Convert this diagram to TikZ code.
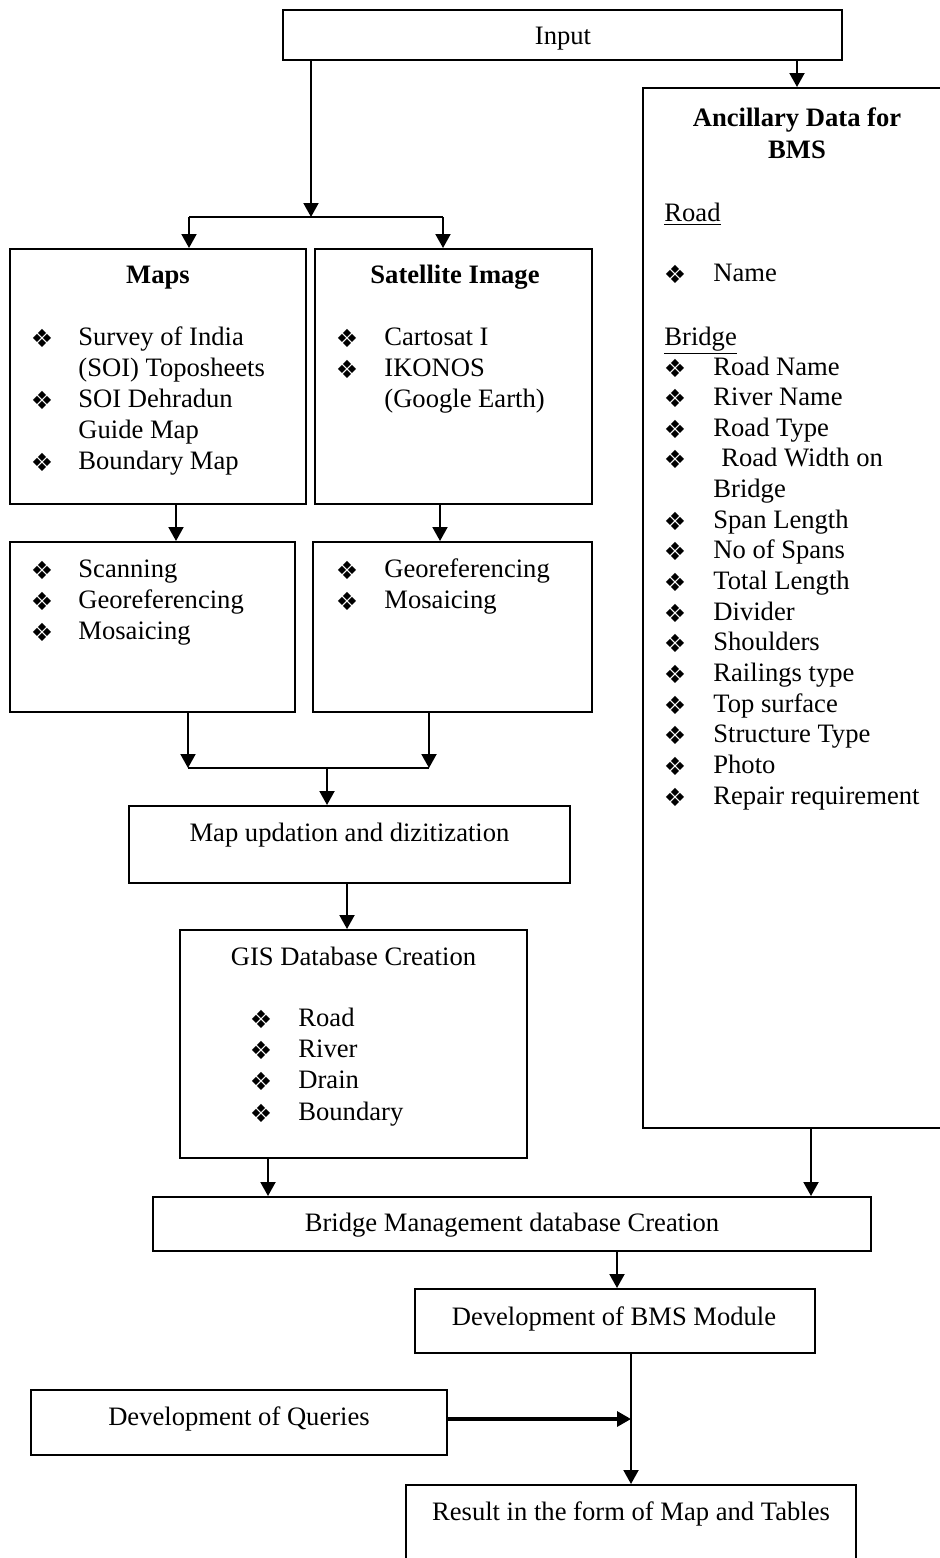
\documentclass[tikz,border=0pt]{standalone}
\usepackage{fontspec}
\setmainfont{Liberation Serif}
\newfontfamily\dingfont{DejaVu Sans}
\usetikzlibrary{arrows.meta,fit}

% bullet line: name, bullet x, text x, baseline y, text
\newcommand\bulitem[5]{%
  \node[dot] (#1b) at (#2,#4-7) {❖};
  \node[item] (#1) at (#3,#4) {#5};}

\begin{document}
\begin{tikzpicture}[x=0.5pt,y=-0.5pt,
  frame/.style={draw,line width=1pt,inner sep=0pt},
  conn/.style={line width=1pt},
  arr/.style={conn,-{Triangle[width=7.5pt,length=7pt]}},
  txt/.style={inner sep=0pt,font=\fontsize{13.3pt}{15.4pt}\selectfont},
  item/.style={txt,anchor=base west},
  title/.style={txt,anchor=base},
  head/.style={title,font=\fontsize{13.3pt}{15.4pt}\selectfont\bfseries},
  dot/.style={inner sep=0pt,font=\fontsize{12.5pt}{12.5pt}\dingfont},
]
\path[use as bounding box] (0,0) rectangle (940,1558);
\clip (0,0) rectangle (940,1558);

% ---------- boxes ----------
\node[frame,fit={(283,10)(842,60)}] (input) {};
\node[frame,fit={(643,88)(990,1128)}] (anc) {};
\node[frame,fit={(10,249)(306,504)}] (maps) {};
\node[frame,fit={(315,249)(592,504)}] (sat) {};
\node[frame,fit={(10,542)(295,712)}] (scan) {};
\node[frame,fit={(313,542)(592,712)}] (geo) {};
\node[frame,fit={(129,806)(570,883)}] (upd) {};
\node[frame,fit={(180,930)(527,1158)}] (gis) {};
\node[frame,fit={(153,1197)(871,1251)}] (bmd) {};
\node[frame,fit={(415,1289)(815,1353)}] (mod) {};
\node[frame,fit={(31,1390)(447,1455)}] (qry) {};
\node[frame,fit={(406,1485)(856,1620)}] (res) {};

% ---------- texts ----------
\node[title] (inputT) at (563,44) {Input};

\node[head] (ancH1) at (797,126) {Ancillary Data for};
\node[head] (ancH2) at (797,158) {BMS};
\node[item] (ancRoad) at (664,221) {\underline{Road}};
\bulitem{ancName}{675}{713}{281}{Name}
\node[item] (ancBridge) at (664,345) {\underline{Bridge}};
\bulitem{ancA}{675}{713}{375}{Road Name}
\bulitem{ancB}{675}{713}{405.6}{River Name}
\bulitem{ancC}{675}{713}{436.3}{Road Type}
\bulitem{ancD}{675}{713}{466.9}{\hspace{0.3em}Road Width on}
\node[item] (ancD2) at (713,497.6) {Bridge};
\bulitem{ancE}{675}{713}{528.2}{Span Length}
\bulitem{ancF}{675}{713}{558.8}{No of Spans}
\bulitem{ancG}{675}{713}{589.5}{Total Length}
\bulitem{ancH}{675}{713}{620.1}{Divider}
\bulitem{ancI}{675}{713}{650.8}{Shoulders}
\bulitem{ancJ}{675}{713}{681.4}{Railings type}
\bulitem{ancK}{675}{713}{712}{Top surface}
\bulitem{ancL}{675}{713}{742.7}{Structure Type}
\bulitem{ancM}{675}{713}{773.3}{Photo}
\bulitem{ancN}{675}{713}{804}{Repair requirement}

\node[head] (mapsH) at (158,283) {Maps};
\bulitem{mapsA}{42}{78}{345}{Survey of India}
\node[item] (mapsA2) at (78,376) {(SOI) Toposheets};
\bulitem{mapsB}{42}{78}{407}{SOI Dehradun}
\node[item] (mapsB2) at (78,438) {Guide Map};
\bulitem{mapsC}{42}{78}{469}{Boundary Map}

\node[head] (satH) at (455,283) {Satellite Image};
\bulitem{satA}{347}{384}{345}{Cartosat I}
\bulitem{satB}{347}{384}{376}{IKONOS}
\node[item] (satB2) at (384,407) {(Google Earth)};

\bulitem{scanA}{42}{78}{577}{Scanning}
\bulitem{scanB}{42}{78}{608}{Georeferencing}
\bulitem{scanC}{42}{78}{639}{Mosaicing}

\bulitem{geoA}{347}{384}{577}{Georeferencing}
\bulitem{geoB}{347}{384}{608}{Mosaicing}

\node[title] (updT) at (349.5,841) {Map updation and dizitization};

\node[title] (gisT) at (353.5,965) {GIS Database Creation};
\bulitem{gisA}{261}{298}{1026}{Road}
\bulitem{gisB}{261}{298}{1057}{River}
\bulitem{gisC}{261}{298}{1088}{Drain}
\bulitem{gisD}{261}{298}{1120}{Boundary}

\node[title] (bmdT) at (512,1231) {Bridge Management database Creation};
\node[title] (modT) at (614,1325) {Development of BMS Module};
\node[title] (qryT) at (239,1425) {Development of Queries};
\node[title] (resT) at (631,1520) {Result in the form of Map and Tables};

% ---------- connectors ----------
\coordinate (fork) at (311,217);
\coordinate (forkL) at (189,217);
\coordinate (forkR) at (443,217);
\draw[arr] (input.south -| fork) -- (fork);
\draw[conn] (forkL) -- (forkR);
\draw[arr] (forkL) -- (forkL |- maps.north);
\draw[arr] (forkR) -- (forkR |- sat.north);

\coordinate (ancX) at (797,0);
\draw[arr] (input.south -| ancX) -- (ancX |- anc.north);

\coordinate (mapsX) at (176,0);
\coordinate (satX) at (440,0);
\draw[arr] (maps.south -| mapsX) -- (mapsX |- scan.north);
\draw[arr] (sat.south -| satX) -- (satX |- geo.north);

\coordinate (joinL) at (188,768);
\coordinate (joinR) at (429,768);
\coordinate (join) at (327,768);
\draw[arr] (scan.south -| joinL) -- (joinL);
\draw[arr] (geo.south -| joinR) -- (joinR);
\draw[conn] (joinL) -- (joinR);
\draw[arr] (join) -- (join |- upd.north);

\coordinate (updX) at (347,0);
\draw[arr] (upd.south -| updX) -- (updX |- gis.north);

\coordinate (gisX) at (268,0);
\coordinate (ancY) at (811,0);
\draw[arr] (gis.south -| gisX) -- (gisX |- bmd.north);
\draw[arr] (anc.south -| ancY) -- (ancY |- bmd.north);

\coordinate (bmdX) at (617,0);
\draw[arr] (bmd.south -| bmdX) -- (bmdX |- mod.north);

\coordinate (modX) at (631,0);
\draw[arr] (mod.south -| modX) -- (modX |- res.north);

\coordinate (qJoin) at (631,1419);
\draw[arr,line width=1.6pt] (qry.east |- qJoin) -- (qJoin);
\end{tikzpicture}
\end{document}
